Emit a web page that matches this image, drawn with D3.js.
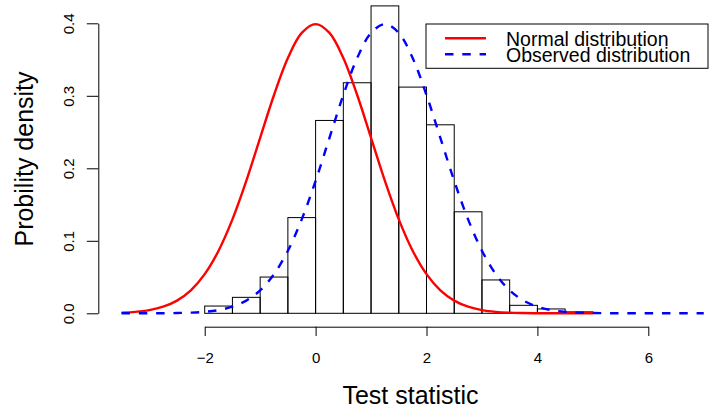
<!DOCTYPE html>
<html>
<head>
<meta charset="utf-8">
<script src="https://cdn.jsdelivr.net/npm/d3@7/dist/d3.min.js"></script>
<style>
  html, body { margin: 0; padding: 0; background: #fff; }
  svg { display: block; font-family: "Liberation Sans", Arial, Helvetica, sans-serif; }
</style>
</head>
<body>
<svg id="chart" width="715" height="412"></svg>
<script>
// Histogram of the test statistic (bin width 0.5, density scale)
const binStarts = [-2, -1.5, -1, -0.5, 0, 0.5, 1, 1.5, 2, 2.5, 3, 3.5, 4, 4.5];
const binWidth = 0.5;
const binDensity = [0.010, 0.022, 0.050, 0.132, 0.266, 0.318, 0.424, 0.312, 0.260, 0.140, 0.046, 0.011, 0.006, 0.002];

// Reference normal curve
const normalX = [-3.5, -3.25, -3, -2.75, -2.5, -2.25, -2, -1.75, -1.5, -1.25, -1, -0.75, -0.5, -0.25,
  0, 0.25, 0.5, 0.75, 1, 1.25, 1.5, 1.75, 2, 2.25, 2.5, 2.75, 3, 3.25, 3.5, 3.75, 4, 4.25, 4.5, 4.75, 5];
const normalY = [0.0009, 0.0020, 0.0044, 0.0091, 0.0175, 0.0317, 0.0540, 0.0863, 0.1295, 0.1826, 0.2420, 0.3011, 0.3521, 0.3867,
  0.3989, 0.3867, 0.3521, 0.3011, 0.2420, 0.1826, 0.1295, 0.0863, 0.0540, 0.0317, 0.0175, 0.0091, 0.0044, 0.0020, 0.0009, 0.0004, 0.0001, 0.0000, 0.0000, 0.0000, 0.0000];

// Observed distribution curve
const observedX = [-3.5, -3.25, -3, -2.75, -2.5, -2.25, -2, -1.75, -1.5, -1.25, -1, -0.75, -0.5, -0.25,
  0, 0.25, 0.5, 0.75, 1, 1.25, 1.5, 1.75, 2, 2.25, 2.5, 2.75, 3, 3.25, 3.5, 3.75, 4, 4.25, 4.5, 4.75,
  5, 5.25, 5.5, 5.75, 6, 6.25, 6.5, 6.75, 7];
const observedY = [0.0000, 0.0000, 0.0001, 0.0001, 0.0004, 0.0009, 0.0020, 0.0044, 0.0091, 0.0175, 0.0317, 0.0540, 0.0863, 0.1295,
  0.1826, 0.2420, 0.3011, 0.3521, 0.3867, 0.3989, 0.3867, 0.3521, 0.3011, 0.2420, 0.1826, 0.1295, 0.0863, 0.0540, 0.0317, 0.0175, 0.0091, 0.0044, 0.0020, 0.0009,
  0.0004, 0.0001, 0.0001, 0.0000, 0.0000, 0.0000, 0.0000, 0.0000, 0.0000];

// Axis ticks and labels
const xTicks = [-2, 0, 2, 4, 6];
const yTicks = [0, 0.1, 0.2, 0.3, 0.4];
const legendLabels = ["Normal distribution", "Observed distribution"];
const xTitle = "Test statistic";
const yTitle = "Probility density";

const svg = d3.select("#chart");

const x = d3.scaleLinear().domain([-2, 6]).range([204.7, 648.3]);
const y = d3.scaleLinear().domain([0, 0.4]).range([313.3, 23.3]);

// Histogram bars
svg.append("g")
  .selectAll("rect")
  .data(binStarts.map((s, i) => ({ s, d: binDensity[i] })))
  .join("rect")
  .attr("x", d => x(d.s))
  .attr("y", d => y(d.d))
  .attr("width", d => x(d.s + binWidth) - x(d.s))
  .attr("height", d => y(0) - y(d.d))
  .attr("fill", "none")
  .attr("stroke", "#000")
  .attr("stroke-width", 1);

// Density curves
const line = d3.line().x(d => x(d[0])).y(d => y(d[1])).curve(d3.curveCatmullRom);

svg.append("path")
  .datum(normalX.map((v, i) => [v, normalY[i]]))
  .attr("d", line)
  .attr("fill", "none")
  .attr("stroke", "#ff0000")
  .attr("stroke-width", 2.4);

svg.append("path")
  .datum(observedX.map((v, i) => [v, observedY[i]]))
  .attr("d", line)
  .attr("fill", "none")
  .attr("stroke", "#0000ff")
  .attr("stroke-width", 2.4)
  .attr("stroke-dasharray", "8.5,8.8");

// X axis
const xAxis = svg.append("g")
  .attr("transform", "translate(0,326.7)")
  .call(d3.axisBottom(x).tickValues(xTicks).tickSize(9.3).tickSizeOuter(0).tickPadding(0).tickFormat(d3.format("d")));
xAxis.select(".domain").attr("stroke", "#000");
xAxis.selectAll(".tick line").attr("stroke", "#000");
xAxis.selectAll(".tick text")
  .attr("y", 36.8).attr("dy", null)
  .attr("fill", "#000")
  .style("font-size", "15px")
  .style("font-family", "'Liberation Sans', Arial, sans-serif");

// Y axis
const yAxis = svg.append("g")
  .attr("transform", "translate(98.3,0)")
  .call(d3.axisLeft(y).tickValues(yTicks).tickSize(11.5).tickSizeOuter(0).tickFormat(d3.format(".1f")));
yAxis.select(".domain").attr("stroke", "#000");
yAxis.selectAll(".tick line").attr("stroke", "#000");
yAxis.selectAll(".tick text")
  .attr("x", null).attr("dy", null)
  .attr("transform", "translate(-24.8,0) rotate(-90)")
  .attr("text-anchor", "middle")
  .attr("fill", "#000")
  .style("font-size", "15px")
  .style("font-family", "'Liberation Sans', Arial, sans-serif");

// Axis titles
svg.append("text")
  .attr("x", 410.5).attr("y", 404)
  .attr("text-anchor", "middle")
  .style("font-size", "25px")
  .attr("fill", "#000")
  .text(xTitle);

svg.append("text")
  .attr("transform", "translate(33,159) rotate(-90)")
  .attr("text-anchor", "middle")
  .style("font-size", "25px")
  .attr("fill", "#000")
  .text(yTitle);

// Legend
const legend = svg.append("g");
legend.append("rect")
  .attr("x", 426).attr("y", 24)
  .attr("width", 282).attr("height", 44.3)
  .attr("fill", "#fff").attr("stroke", "#000").attr("stroke-width", 1);

const legendStyles = [
  { color: "#ff0000", dash: null },
  { color: "#0000ff", dash: "8.5,8.8" }
];
legendLabels.forEach((label, i) => {
  const ly = 38.3 + i * 16;
  legend.append("line")
    .attr("x1", 445).attr("x2", 486)
    .attr("y1", ly).attr("y2", ly)
    .attr("stroke", legendStyles[i].color)
    .attr("stroke-width", 2.4)
    .attr("stroke-dasharray", legendStyles[i].dash);
  legend.append("text")
    .attr("x", 506).attr("y", ly + 7.4)
    .style("font-size", "19.5px")
    .attr("fill", "#000")
    .text(label);
});
</script>
</body>
</html>
